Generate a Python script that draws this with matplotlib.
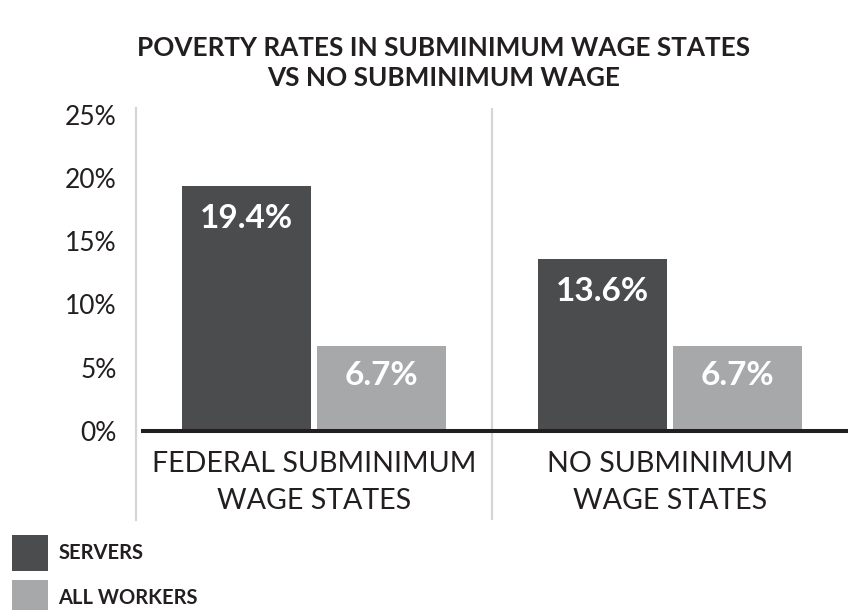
import matplotlib
matplotlib.use("Agg")
import matplotlib.pyplot as plt
from matplotlib.patches import Patch

plt.rcParams['font.family'] = ['Lato', 'DejaVu Sans']

# Data
groups = ["FEDERAL SUBMINIMUM\nWAGE STATES", "NO SUBMINIMUM\nWAGE STATES"]
series = ["SERVERS", "ALL WORKERS"]
servers = [19.4, 13.6]
all_workers = [6.7, 6.7]
yticks = [0, 5, 10, 15, 20, 25]
ytick_labels = ["0%", "5%", "10%", "15%", "20%", "25%"]

dark = "#4b4c4e"
light = "#a7a8aa"
ink = "#231f20"
rule = "#d5d5d5"

W, H = 850, 610
fig = plt.figure(figsize=(W / 100, H / 100), dpi=100)
ax = fig.add_axes([136 / W, 1 - 520 / H, 712 / W, 412 / H])

ax.set_xlim(0, 2)
px_per_unit = 12.65
ax.set_ylim((431 - 520) / px_per_unit, (431 - 108) / px_per_unit)

centers = [0.5, 1.5]
bw = 0.362
off = 0.189
ax.bar([c - off for c in centers], servers, width=bw, color=dark, zorder=2)
ax.bar([c + off for c in centers], all_workers, width=bw, color=light, zorder=2)

# values written inside the bars
for c, v in zip(centers, servers):
    ax.text(c - off, v - 2.6, f"{v:.1f}%", ha="center", va="center",
            color="white", fontsize=24, fontweight="bold", zorder=3)
for c, v in zip(centers, all_workers):
    ax.text(c + off, v - 2.35, f"{v:.1f}%", ha="center", va="center",
            color="white", fontsize=24, fontweight="bold", zorder=3)

# baseline and group divider
ax.axhline(0, xmin=7 / 712, xmax=1, color=ink, lw=2.9, zorder=4)
ax.axvline(1.0, color=rule, lw=1.6, zorder=1)

# group labels under the baseline
for c, g in zip(centers, groups):
    ax.text(c, -1.6, g, ha="center", va="top", fontsize=20.6,
            fontweight="normal", color=ink, linespacing=1.5)

ax.set_yticks(yticks)
ax.set_yticklabels(ytick_labels, fontsize=19, color=ink, fontweight="normal")
ax.tick_params(axis="y", length=0, pad=14)
ax.set_xticks([])
for s in ["top", "right", "bottom"]:
    ax.spines[s].set_visible(False)
ax.spines["left"].set_color(rule)
ax.spines["left"].set_linewidth(1.6)

fig.text(0.522, 1 - 63 / H, "POVERTY RATES IN SUBMINIMUM WAGE STATES\nVS NO SUBMINIMUM WAGE",
         ha="center", va="center", fontsize=18.8, fontweight="bold", color=ink,
         linespacing=1.35)

handles = [Patch(facecolor=dark, edgecolor="none"), Patch(facecolor=light, edgecolor="none")]
fig.legend(handles, series, loc="upper left", bbox_to_anchor=(12 / W, 1 - 535 / H),
           frameon=False, borderpad=0, borderaxespad=0,
           handlelength=1.79, handleheight=2.38, labelspacing=0.44, handletextpad=0.5,
           prop={"weight": "bold", "size": 14.5}, labelcolor=ink)

fig.savefig("out.png", dpi=100)
